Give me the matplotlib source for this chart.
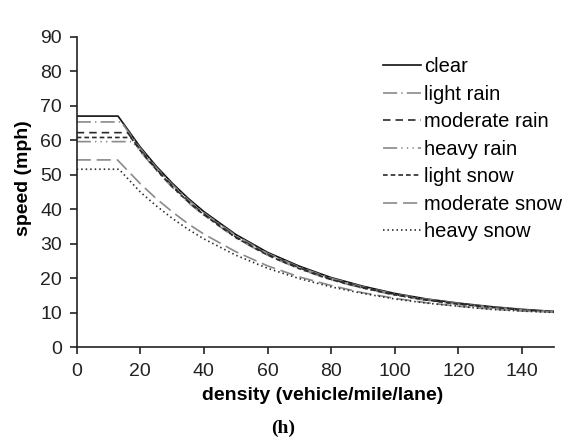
import matplotlib
matplotlib.use("Agg")
import matplotlib.pyplot as plt

# density (vehicle/mile/lane) for the congested branch of each curve
density_tail = [20, 25, 30, 35, 40, 50, 60, 70, 80, 90, 100, 110, 120, 130, 140, 150]

# free-flow speed (mph) and density where the curve starts to drop
free_speed = {
    "clear": 67.0,
    "light rain": 65.3,
    "moderate rain": 62.2,
    "heavy rain": 59.6,
    "light snow": 60.8,
    "moderate snow": 54.3,
    "heavy snow": 51.6,
}
break_density = {
    "clear": 13,
    "light rain": 14,
    "moderate rain": 16,
    "heavy rain": 17.5,
    "light snow": 17,
    "moderate snow": 12.8,
    "heavy snow": 13.3,
}

clear = [58.0, 52.5, 47.6, 43.2, 39.3, 32.7, 27.5, 23.5, 20.2, 17.7, 15.6, 14.0, 12.8, 11.8, 11.0, 10.4]
light_rain = [57.6, 52.1, 47.2, 42.8, 38.9, 32.4, 27.2, 23.2, 20.0, 17.5, 15.4, 13.9, 12.7, 11.7, 10.9, 10.3]
moderate_rain = [57.2, 51.7, 46.8, 42.4, 38.6, 32.0, 26.9, 23.0, 19.7, 17.3, 15.3, 13.7, 12.6, 11.6, 10.8, 10.3]
heavy_rain = [56.8, 51.3, 46.4, 42.0, 38.2, 31.7, 26.6, 22.7, 19.5, 17.1, 15.1, 13.6, 12.5, 11.5, 10.8, 10.3]
light_snow = [57.0, 51.5, 46.6, 42.2, 38.4, 31.8, 26.7, 22.8, 19.6, 17.2, 15.2, 13.7, 12.5, 11.6, 10.8, 10.3]
moderate_snow = [47.4, 43.1, 39.3, 35.8, 32.8, 27.7, 23.6, 20.4, 17.9, 15.8, 14.2, 12.9, 11.9, 11.1, 10.5, 10.2]
heavy_snow = [45.0, 41.0, 37.4, 34.2, 31.4, 26.7, 22.9, 19.9, 17.5, 15.6, 14.0, 12.8, 11.9, 11.0, 10.5, 10.1]

tails = {
    "clear": clear,
    "light rain": light_rain,
    "moderate rain": moderate_rain,
    "heavy rain": heavy_rain,
    "light snow": light_snow,
    "moderate snow": moderate_snow,
    "heavy snow": heavy_snow,
}

dark = "#2a2a2a"
grey = "#8a8a8a"
styles = {
    "clear": dict(color="#111111", linestyle="-"),
    "light rain": dict(color=grey, linestyle=(0, (8.5, 2.5, 0.8, 2.5))),
    "moderate rain": dict(color=dark, linestyle=(0, (4.5, 3))),
    "heavy rain": dict(color=grey, linestyle=(0, (8.5, 2.5, 0.8, 2.5, 0.8, 2.5, 0.8, 2.5))),
    "light snow": dict(color=dark, linestyle=(0, (2.8, 1.8))),
    "moderate snow": dict(color=grey, linestyle=(0, (8.5, 3.5))),
    "heavy snow": dict(color=dark, linestyle=(0, (0.9, 1.8))),
}

plt.rcParams["font.family"] = ["Liberation Sans", "DejaVu Sans"]

fig = plt.figure(figsize=(5.71, 4.44), dpi=100)
ax = fig.add_axes([0.1343, 0.2178, 0.8357, 0.6995])

for name, tail in tails.items():
    xs = [0, break_density[name]] + density_tail
    ys = [free_speed[name], free_speed[name]] + tail
    ax.plot(xs, ys, label=name, linewidth=1.2, **styles[name])

ax.set_xlim(0, 150)
ax.set_ylim(0, 90)
ax.set_xticks(range(0, 141, 20))
ax.set_yticks(range(0, 91, 10))
ax.spines["top"].set_visible(False)
ax.spines["right"].set_visible(False)
for s in ("left", "bottom"):
    ax.spines[s].set_linewidth(1.2)
    ax.spines[s].set_color("#222222")
ax.tick_params(direction="out", length=5, width=1.2, labelsize=14, colors="#222222")
ax.tick_params(axis="x", pad=6)
ax.tick_params(axis="y", pad=5.5)

ax.set_ylabel("speed (mph)", fontsize=14, fontweight="bold")
ax.yaxis.set_label_coords(-0.094, 0.545)
ax.set_xlabel("density (vehicle/mile/lane)", fontsize=14, fontweight="bold")
ax.xaxis.set_label_coords(0.516, -0.128)

ax.legend(loc="upper left", bbox_to_anchor=(0.6708, 1 - 57.5 / 444), bbox_transform=fig.transFigure,
          frameon=False, fontsize=14.5, handlelength=1.9, handletextpad=0.15,
          labelspacing=0.42, borderpad=0, borderaxespad=0)

fig.text(283 / 571, 1 - 428 / 444, "(h)", ha="center", va="center", fontsize=14,
         fontweight="bold", family=["Liberation Serif", "DejaVu Serif"])

fig.savefig("out.png", dpi=100)
